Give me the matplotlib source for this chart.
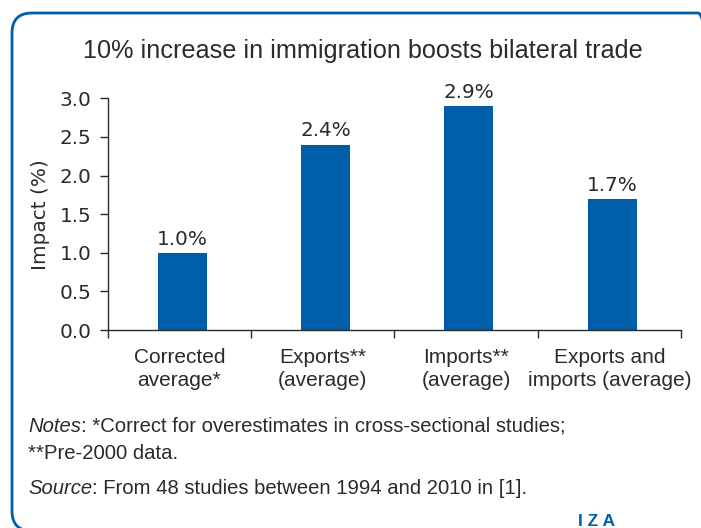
import matplotlib.pyplot as plt
from matplotlib.patches import FancyBboxPatch
from matplotlib.transforms import IdentityTransform
from matplotlib.ticker import FixedLocator

# data
categories = ['Corrected\naverage*', 'Exports**\n(average)', 'Imports**\n(average)',
              'Exports and\nimports (average)']
impact = [1.0, 2.4, 2.9, 1.7]
bar_labels = ['1.0%', '2.4%', '2.9%', '1.7%']
y_ticks = [0.0, 0.5, 1.0, 1.5, 2.0, 2.5, 3.0]

blue = '#005da9'
ink = '#2b2b2b'
plain = ['Liberation Sans', 'DejaVu Sans']

fig = plt.figure(figsize=(7.01, 5.28), dpi=100)
ax = fig.add_axes([0.1536, 0.375, 0.8178, 0.4388])

x = list(range(len(categories)))
# bars sit a touch right of the category centre in the original
bar_x = [xi + 0.02 for xi in x]
ax.bar(bar_x, impact, width=0.34, color=blue, zorder=2)
for xi, v, lab in zip(bar_x, impact, bar_labels):
    ax.annotate(lab, (xi, v), xytext=(0, 3), textcoords='offset points',
                ha='center', va='bottom', fontsize=14.4, color=ink)

ax.set_xlim(-0.5, 3.5)
ax.set_ylim(0, 3.0)
ax.set_yticks(y_ticks)
ax.set_yticklabels([f'{t:.1f}' for t in y_ticks])
ax.set_xticks(x)
ax.set_xticklabels(categories, family=plain, fontsize=15, color=ink, linespacing=1.25)
ax.xaxis.set_minor_locator(FixedLocator([-0.5, 0.5, 1.5, 2.5, 3.5]))
ax.tick_params(axis='x', which='major', length=0, pad=13)
ax.tick_params(axis='x', which='minor', length=5.5, width=1, color=ink)
ax.tick_params(axis='y', length=5.5, width=1, color=ink, labelsize=14.4,
               labelcolor=ink, pad=6)
ax.set_ylabel('Impact (%)', fontsize=14.4, color=ink, labelpad=7)
for s in ['top', 'right']:
    ax.spines[s].set_visible(False)
for s in ['left', 'bottom']:
    ax.spines[s].set_color(ink)
    ax.spines[s].set_linewidth(1)

fig.text(0.517, 1 - 51 / 528, '10% increase in immigration boosts bilateral trade',
         family=plain, fontsize=18.2, color=ink, ha='center', va='center')

# notes
t1 = fig.text(28 / 701, 1 - 436 / 528, 'Notes', family=plain, style='italic',
              fontsize=14.6, color=ink, va='bottom')
ax.annotate(': *Correct for overestimates in cross-sectional studies;', (1, 0),
            xycoords=t1, va='bottom', family=plain, fontsize=14.6, color=ink)
fig.text(28 / 701, 1 - 463 / 528, '**Pre-2000 data.', family=plain,
         fontsize=14.6, color=ink, va='bottom')
t2 = fig.text(28 / 701, 1 - 498 / 528, 'Source', family=plain, style='italic',
              fontsize=14.6, color=ink, va='bottom')
ax.annotate(': From 48 studies between 1994 and 2010 in [1].', (1, 0),
            xycoords=t2, va='bottom', family=plain, fontsize=14.6, color=ink)

fig.text(596 / 701, 1 - 521 / 528, 'I Z A', family=plain, fontweight='bold',
         fontsize=12.5, color=blue, ha='center', va='center')

frame = FancyBboxPatch((12, -3), 706, 518, boxstyle='round,pad=0,rounding_size=20',
                       transform=IdentityTransform(), fill=False, ec=blue, lw=2,
                       clip_on=False)
fig.add_artist(frame)

fig.savefig('out.png', dpi=100)
